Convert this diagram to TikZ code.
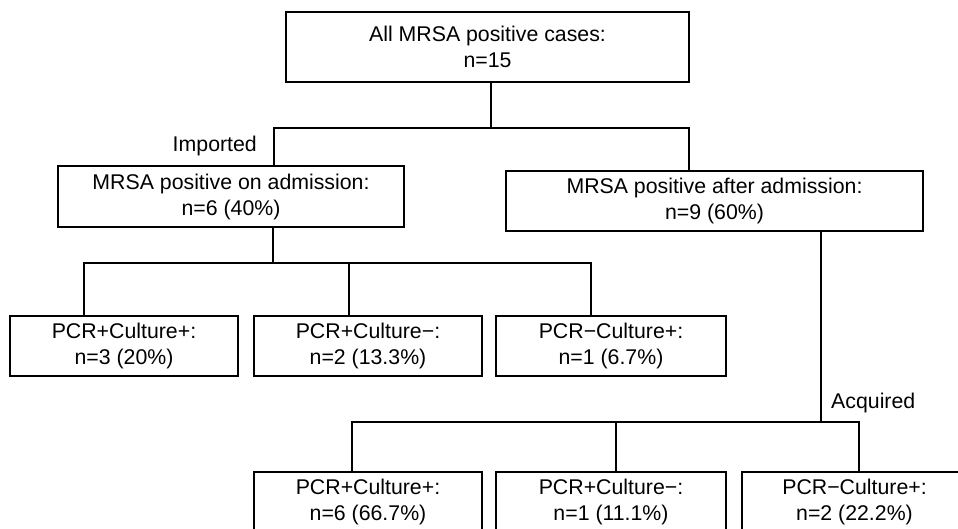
\documentclass[tikz,border=0pt]{standalone}
\usepackage{fontspec}
\setmainfont{Liberation Sans}
\begin{document}
\begin{tikzpicture}[x=1pt,y=-1pt,
  box/.style={draw, line width=1.6pt, inner sep=0pt, align=center, font=\fontsize{21.3}{26}\selectfont},
  lbl/.style={inner sep=0pt, font=\fontsize{21.3}{26}\selectfont},
  conn/.style={line width=1.6pt}]
\useasboundingbox (0,0) rectangle (958,529);
\fill[white] (0,0) rectangle (958,529);
\clip (0,0) rectangle (958,529);
% boxes
\node[box, minimum width=403pt, minimum height=70pt] (top) at (487.5,47) {All MRSA positive cases:\\n=15};
\node[box, minimum width=346pt, minimum height=61pt] (adm) at (231,196.5) {MRSA positive on admission:\\n=6 (40\%)};
\node[box, minimum width=417pt, minimum height=60pt] (aft) at (714.5,201) {MRSA positive after admission:\\n=9 (60\%)};
\node[box, minimum width=228pt, minimum height=60pt] (b1) at (124,346) {PCR+Culture+:\\n=3 (20\%)};
\node[box, minimum width=228pt, minimum height=60pt] (b2) at (368,346) {PCR+Culture−:\\n=2 (13.3\%)};
\node[box, minimum width=230pt, minimum height=60pt] (b3) at (611,346) {PCR−Culture+:\\n=1 (6.7\%)};
\node[box, minimum width=228pt, minimum height=60pt] (b4) at (368,502) {PCR+Culture+:\\n=6 (66.7\%)};
\node[box, minimum width=230pt, minimum height=60pt] (b5) at (611,502) {PCR+Culture−:\\n=1 (11.1\%)};
\node[box, minimum width=225pt, minimum height=60pt] (b6) at (854.5,502) {PCR−Culture+:\\n=2 (22.2\%)};
% labels
\node[lbl, anchor=base east] (imp) at (257,151.7) {Imported};
\node[lbl, anchor=base west] (acq) at (831,408.3) {Acquired};
% junctions level 1
\coordinate (j1) at (491,128);
\coordinate (dA) at (274,128);
\coordinate (dB) at (689,128);
\draw[conn] (j1 |- top.south) -- (j1);
\draw[conn] (dA |- adm.north) -- (dA) -- (dB) -- (dB |- aft.north);
% level 2 left
\coordinate (j2) at (273,263);
\coordinate (d1) at (84,263);
\coordinate (d2) at (349,263);
\coordinate (d3) at (591,263);
\draw[conn] (j2 |- adm.south) -- (j2);
\draw[conn] (d1 |- b1.north) -- (d1) -- (d3) -- (d3 |- b3.north);
\draw[conn] (d2) -- (d2 |- b2.north);
% level 2 right
\coordinate (j3) at (821,422);
\coordinate (d4) at (352,422);
\coordinate (d5) at (616,422);
\coordinate (d6) at (859,422);
\draw[conn] (j3 |- aft.south) -- (j3);
\draw[conn] (d4 |- b4.north) -- (d4) -- (d6) -- (d6 |- b6.north);
\draw[conn] (d5) -- (d5 |- b5.north);
\end{tikzpicture}
\end{document}
